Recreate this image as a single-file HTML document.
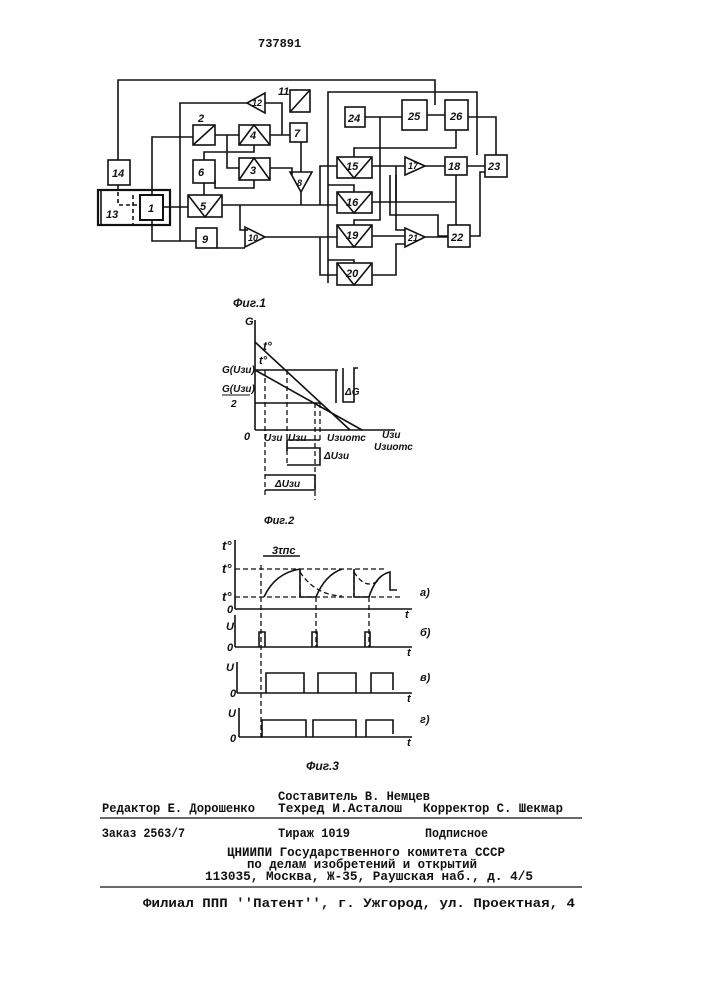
<!DOCTYPE html>
<html><head><meta charset="utf-8"><style>
html,body{margin:0;padding:0;background:#fff}
svg{display:block}
text{font-family:"Liberation Sans",sans-serif;font-style:italic;font-weight:bold;fill:#111}
.m{font-family:"Liberation Mono",monospace;font-style:normal;font-weight:bold;font-size:12.5px}
</style></head><body>
<svg width="707" height="1000" viewBox="0 0 707 1000" xmlns="http://www.w3.org/2000/svg">
<g stroke="#111" stroke-width="1.6" fill="none">
<!-- Fig 1 -->
<polyline points="118,160 118,80 435,80 435,105"/>
<polyline points="328,205 328,92 477,92 477,155"/>
<rect x="108" y="160" width="22" height="25"/>
<rect x="98" y="190" width="72" height="35" stroke-width="2.2"/>
<line x1="101" y1="190" x2="101" y2="225"/>
<rect x="140" y="195" width="23" height="25" stroke-width="2"/>
<polyline points="118,185 118,205 140,205" stroke-dasharray="4,3"/>
<line x1="133" y1="195" x2="133" y2="225" stroke-dasharray="4,3"/>
<rect x="193" y="125" width="22" height="20"/><line x1="193" y1="145" x2="215" y2="125"/>
<rect x="239" y="125" width="31" height="20"/><polyline points="239,145 254,125 270,145"/>
<rect x="290" y="123" width="17" height="19"/>
<rect x="290" y="90" width="20" height="22"/><line x1="290" y1="112" x2="310" y2="90"/>
<polygon points="247,103 265,93 265,113"/>
<rect x="193" y="160" width="22" height="23"/>
<rect x="239" y="158" width="31" height="22"/><polyline points="239,180 254,158 270,180"/>
<rect x="188" y="195" width="34" height="22"/><polyline points="188,195 205,217 222,195"/>
<polygon points="290,172 312,172 301,192"/>
<rect x="196" y="228" width="21" height="20"/>
<polygon points="245,227 245,247 265,237"/>
<rect x="345" y="107" width="20" height="20"/>
<rect x="402" y="100" width="25" height="30"/>
<rect x="445" y="100" width="23" height="30"/>
<rect x="337" y="157" width="35" height="21"/><polyline points="337,157 354,178 372,157"/>
<rect x="337" y="192" width="35" height="21"/><polyline points="337,192 354,213 372,192"/>
<rect x="337" y="225" width="35" height="22"/><polyline points="337,225 354,247 372,225"/>
<rect x="337" y="263" width="35" height="22"/><polyline points="337,263 354,285 372,263"/>
<polygon points="405,157 405,175 425,166"/>
<polygon points="405,228 405,247 425,237"/>
<rect x="445" y="157" width="22" height="18"/>
<rect x="448" y="225" width="22" height="22"/>
<rect x="485" y="155" width="22" height="22"/>
<polyline points="152,195 152,137 193,137"/>
<polyline points="152,220 152,241 196,241"/>
<polyline points="247,103 180,103 180,241"/>
<polyline points="215,135 239,135"/>
<polyline points="227,135 227,168 239,168"/>
<polyline points="270,135 290,135"/>
<polyline points="265,103 282,103 282,135"/>
<polyline points="301,142 301,172"/>
<polyline points="270,168 292,168 292,175"/>
<polyline points="204,160 204,152 254,152 254,145"/>
<polyline points="204,183 204,195"/>
<polyline points="215,180 215,188 254,188 254,180"/>
<polyline points="163,207 188,207"/>
<polyline points="222,205 337,205"/>
<polyline points="301,192 301,205"/>
<polyline points="240,205 240,230 248,230"/>
<polyline points="217,248 245,248"/>
<polyline points="265,237 337,237"/>
<polyline points="320,205 320,166 337,166"/>
<polyline points="320,237 320,275 337,275"/>
<polyline points="328,205 328,283"/>
<polyline points="328,185 354,185 354,192"/>
<polyline points="328,260 354,260 354,263"/>
<polyline points="365,117 402,117"/>
<polyline points="380,117 380,220 354,220 354,225"/>
<polyline points="427,115 445,115"/>
<polyline points="456,130 456,148 354,148 354,157"/>
<polyline points="468,117 496,117 496,155"/>
<polyline points="372,166 405,166"/>
<polyline points="425,166 445,166"/>
<polyline points="467,166 485,166"/>
<polyline points="396,166 396,230 405,230"/>
<polyline points="372,202 456,202"/>
<polyline points="396,202 396,175"/>
<polyline points="456,175 456,225"/>
<polyline points="372,236 405,236"/>
<polyline points="390,175 390,215 438,215 438,236 448,236"/>
<polyline points="425,237 448,237"/>
<polyline points="372,275 396,275 396,244 405,244"/>
<polyline points="470,236 480,236 480,172 485,172"/>
<!-- Fig 2 -->
<line x1="255" y1="320" x2="255" y2="430"/>
<line x1="255" y1="430" x2="395" y2="430"/>
<line x1="255" y1="342" x2="350" y2="430"/>
<line x1="255" y1="370" x2="362" y2="430"/>
<line x1="255" y1="370" x2="338" y2="370"/>
<line x1="255" y1="403" x2="320" y2="403"/>
<polyline points="336,370 336,403"/>
<polyline points="343,368 343,402 354,402 354,368 358,368"/>
<g stroke-dasharray="5,3" stroke-width="1.3">
<line x1="265" y1="370" x2="265" y2="495"/>
<line x1="287" y1="370" x2="287" y2="465"/>
<line x1="315" y1="403" x2="315" y2="500"/>
<line x1="320" y1="403" x2="320" y2="440"/>
</g>
<polyline points="287,451 287,440 320,440"/>
<polyline points="287,465 320,465 320,448 287,448"/>
<polyline points="265,475 315,475 315,490 265,490"/>
<!-- Fig 3 -->
<line x1="235" y1="540" x2="235" y2="609"/><line x1="235" y1="609" x2="412" y2="609"/>
<line x1="235" y1="615" x2="235" y2="647"/><line x1="235" y1="647" x2="412" y2="647"/>
<line x1="237" y1="662" x2="237" y2="693"/><line x1="237" y1="693" x2="412" y2="693"/>
<line x1="239" y1="708" x2="239" y2="737"/><line x1="239" y1="737" x2="412" y2="737"/>
<g stroke-dasharray="5,3" stroke-width="1.3">
<line x1="235" y1="569" x2="386" y2="569"/>
<line x1="235" y1="597" x2="400" y2="597"/>
<line x1="261" y1="565" x2="261" y2="740"/>
<line x1="316" y1="597" x2="316" y2="647"/>
<line x1="369" y1="597" x2="369" y2="647"/>
<line x1="300" y1="569" x2="300" y2="597"/>
<line x1="354" y1="569" x2="354" y2="597"/>
<path d="M300,572 Q315,595 342,596"/>
<path d="M354,572 Q365,590 378,581"/>
</g>
<path d="M264,597 Q275,573 300,569"/>
<polyline points="300,569 300,597 316,597"/>
<path d="M316,597 Q325,575 342,569"/>
<polyline points="354,569 354,597 369,597"/>
<path d="M369,597 Q376,575 390,572 L390,590 L397,590"/>
<line x1="263" y1="556" x2="300" y2="556"/>
<polyline points="259,647 259,632 265,632 265,647"/>
<polyline points="312,647 312,632 317,632 317,647"/>
<polyline points="365,647 365,632 370,632 370,647"/>
<polyline points="266,693 266,673 304,673 304,693"/>
<polyline points="318,693 318,673 356,673 356,693"/>
<polyline points="371,693 371,673 393,673 393,690"/>
<polyline points="262,737 262,720 306,720 306,737"/>
<polyline points="313,737 313,720 356,720 356,737"/>
<polyline points="366,737 366,720 393,720 393,734"/>
<line x1="100" y1="818" x2="582" y2="818" stroke-width="1.2"/>
<line x1="100" y1="887" x2="582" y2="887" stroke-width="1.2"/>
</g>
<g font-size="11">
<text x="258" y="47" class="m" style="font-size:12px">737891</text>
<text x="112" y="177">14</text><text x="106" y="218">13</text><text x="148" y="212">1</text>
<text x="198" y="122">2</text><text x="250" y="139">4</text><text x="294" y="137">7</text>
<text x="278" y="95">11</text><text x="252" y="106" font-size="9">12</text>
<text x="198" y="176">6</text><text x="250" y="174">3</text><text x="200" y="210">5</text>
<text x="297" y="186" font-size="9">8</text><text x="202" y="243">9</text><text x="248" y="241" font-size="9">10</text>
<text x="348" y="122">24</text><text x="408" y="120">25</text><text x="450" y="120">26</text>
<text x="346" y="170">15</text><text x="346" y="206">16</text><text x="346" y="239">19</text><text x="346" y="277">20</text>
<text x="408" y="169" font-size="9">17</text><text x="408" y="241" font-size="9">21</text>
<text x="448" y="170">18</text><text x="451" y="241">22</text><text x="488" y="170">23</text>
<text x="233" y="307" font-size="12">Фиг.1</text>
<text x="245" y="325">G</text><text x="263" y="350" font-size="12">t°</text><text x="259" y="364" font-size="11">t°</text>
<text x="222" y="373" font-size="10">G(Uзи)</text><text x="222" y="392" font-size="10">G(Uзи)</text>
<line x1="222" y1="395" x2="250" y2="395" stroke="#111"/>
<text x="231" y="407" font-size="10">2</text>
<text x="345" y="395" font-size="10">ΔG</text>
<text x="244" y="440">0</text><text x="264" y="441" font-size="10">Uзи</text><text x="288" y="441" font-size="10">Uзи</text>
<text x="327" y="441" font-size="10">Uзиотс</text><text x="382" y="438" font-size="10">Uзи</text><text x="374" y="450" font-size="10">Uзиотс</text>
<text x="324" y="459" font-size="10">ΔUзи</text><text x="275" y="487" font-size="10">ΔUзи</text>
<text x="264" y="524" font-size="11">Фиг.2</text>
<text x="222" y="550" font-size="13">t°</text><text x="222" y="573" font-size="13">t°</text><text x="222" y="601" font-size="13">t°</text>
<text x="227" y="613">0</text><text x="272" y="554">3τпс</text><text x="405" y="618">t</text><text x="420" y="596">a)</text>
<text x="226" y="630">U</text><text x="227" y="651">0</text><text x="407" y="656">t</text><text x="420" y="636">б)</text>
<text x="226" y="671">U</text><text x="230" y="697">0</text><text x="407" y="702">t</text><text x="420" y="681">в)</text>
<text x="228" y="717">U</text><text x="230" y="742">0</text><text x="407" y="746">t</text><text x="420" y="723">г)</text>
<text x="306" y="770" font-size="12">Фиг.3</text>
</g>
<g>
<text x="278" y="800" class="m" textLength="152" lengthAdjust="spacingAndGlyphs">Составитель В. Немцев</text>
<text x="102" y="812" class="m" textLength="153" lengthAdjust="spacingAndGlyphs">Редактор Е. Дорошенко</text>
<text x="278" y="812" class="m" textLength="124" lengthAdjust="spacingAndGlyphs">Техред И.Асталош</text>
<text x="423" y="812" class="m" textLength="140" lengthAdjust="spacingAndGlyphs">Корректор С. Шекмар</text>
<text x="102" y="837" class="m" textLength="83" lengthAdjust="spacingAndGlyphs">Заказ 2563/7</text>
<text x="278" y="837" class="m" textLength="72" lengthAdjust="spacingAndGlyphs">Тираж 1019</text>
<text x="425" y="837" class="m" textLength="63" lengthAdjust="spacingAndGlyphs">Подписное</text>
<text x="227" y="856" class="m" textLength="278" lengthAdjust="spacingAndGlyphs">ЦНИИПИ Государственного  комитета СССР</text>
<text x="247" y="868" class="m" textLength="230" lengthAdjust="spacingAndGlyphs">по делам изобретений и открытий</text>
<text x="205" y="880" class="m" textLength="328" lengthAdjust="spacingAndGlyphs">113035, Москва, Ж-35, Раушская наб., д. 4/5</text>
<text x="143" y="907" class="m" textLength="432" lengthAdjust="spacingAndGlyphs">Филиал ППП ''Патент'', г. Ужгород, ул. Проектная, 4</text>
</g>
</svg>
</body></html>
